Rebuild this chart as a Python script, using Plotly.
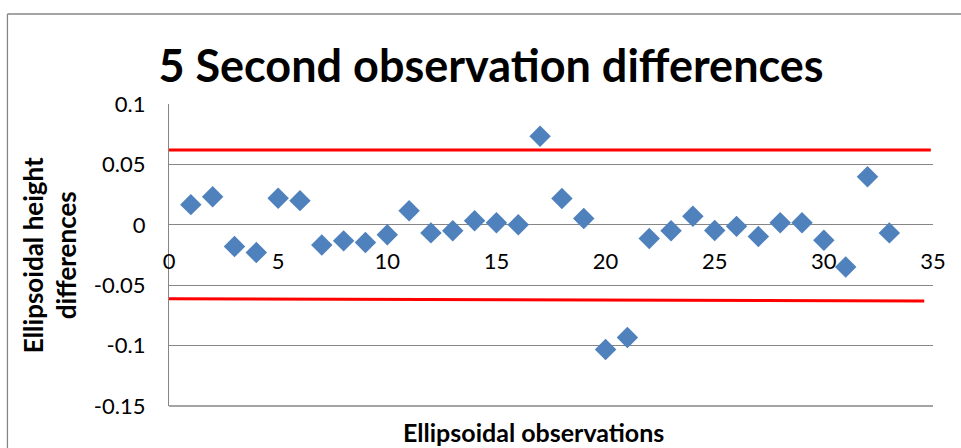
import plotly.graph_objects as go

obs = list(range(1, 34))
diffs = [0.0167, 0.0233, -0.018, -0.023, 0.022, 0.020, -0.0167, -0.0133, -0.0147, -0.0083,
         0.0117, -0.0067, -0.005, 0.0033, 0.0017, 0.0, 0.0733, 0.0217, 0.0053, -0.1033,
         -0.0933, -0.0113, -0.005, 0.007, -0.0047, -0.0013, -0.0097, 0.0017, 0.0017, -0.0128,
         -0.035, 0.0397, -0.0067]

upper_x = [0, 34.9]
upper_y = [0.062, 0.062]
lower_x = [0, 34.6]
lower_y = [-0.0613, -0.063]

x_ticks = [0, 5, 10, 15, 20, 25, 30, 35]
x_ticktext = ["0", "5", "10", "15", "20", "25", "30", "35"]
y_ticks = [0.1, 0.05, 0, -0.05, -0.1, -0.15]
y_ticktext = ["0.1", "0.05", "0", "-0.05", "-0.1", "-0.15"]

FONT = "Lato"
GRID = "#868686"

fig = go.Figure()
fig.add_trace(go.Scatter(x=upper_x, y=upper_y, mode="lines",
                         line=dict(color="#FF0000", width=3), showlegend=False, hoverinfo="skip"))
fig.add_trace(go.Scatter(x=lower_x, y=lower_y, mode="lines",
                         line=dict(color="#FF0000", width=3), showlegend=False, hoverinfo="skip"))
fig.add_trace(go.Scatter(x=obs, y=diffs, mode="markers",
                         marker=dict(symbol="diamond", size=16.5, color="#4F81BD",
                                     line=dict(width=0)),
                         showlegend=False))

L, R, T, B = 169, 28.3, 103.7, 42.3
W, H = 961, 448
pw, ph = W - L - R, H - T - B

def px_x(p):
    return (p - L) / pw

def px_y(p):
    return (H - B - p) / ph

fig.update_layout(
    width=W, height=H,
    margin=dict(l=L, r=R, t=T, b=B, pad=0),
    paper_bgcolor="white", plot_bgcolor="white",
    font=dict(family=FONT, color="black", size=20),
    title=dict(text="<b>5 Second observation differences</b>", x=491 / W, xanchor="center",
               xref="container", y=1 - 66 / H, yanchor="middle", yref="container",
               font=dict(family=FONT, size=45, color="black")),
    xaxis=dict(range=[0, 35], tickvals=x_ticks, ticktext=x_ticktext, showgrid=False,
               zeroline=False, showline=False, ticks="", anchor="free",
               position=px_y(225.7), ticklabelstandoff=20,
               tickfont=dict(family=FONT, size=22)),
    yaxis=dict(range=[-0.15, 0.1], tickvals=y_ticks, ticktext=y_ticktext, showgrid=True,
               gridcolor=GRID, gridwidth=1.3, zeroline=False, showline=True,
               linecolor=GRID, linewidth=1.3, ticks="", ticklabelstandoff=18,
               tickfont=dict(family=FONT, size=22)),
    annotations=[
        dict(text="<b>Ellipsoidal height<br>differences</b>", xref="paper", yref="paper",
             x=px_x(50), y=px_y(255), xanchor="center", yanchor="middle", textangle=-90,
             showarrow=False, font=dict(family=FONT, size=26, color="black")),
        dict(text="<b>Ellipsoidal observations</b>", xref="paper", yref="paper",
             x=px_x(533), y=px_y(432), xanchor="center", yanchor="middle",
             showarrow=False, font=dict(family=FONT, size=25, color="black")),
    ],
    shapes=[
        dict(type="line", xref="paper", yref="paper", x0=0, x1=1, y0=0, y1=0,
             line=dict(color=GRID, width=1.3)),
        dict(type="line", xref="paper", yref="paper", x0=px_x(7.5), x1=px_x(961),
             y0=px_y(13.7), y1=px_y(13.7), line=dict(color=GRID, width=1.3)),
        dict(type="line", xref="paper", yref="paper", x0=px_x(7.5), x1=px_x(7.5),
             y0=px_y(13.7), y1=px_y(449), line=dict(color=GRID, width=1.3)),
    ],
)

fig.write_html("out.html")
